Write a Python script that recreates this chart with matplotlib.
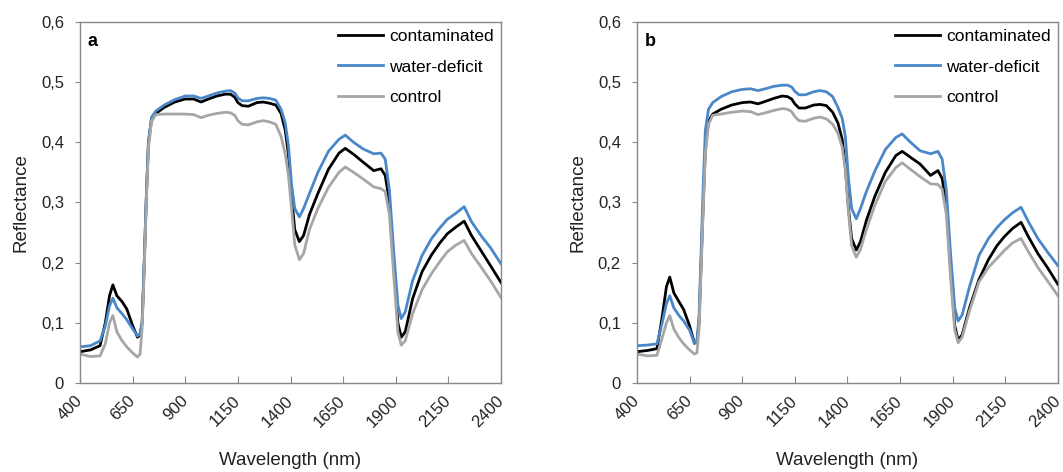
import numpy as np
import matplotlib
matplotlib.use("Agg")
import matplotlib.pyplot as plt

plt.rcParams['font.family'] = ['Liberation Sans', 'DejaVu Sans']

# wavelength grid (nm) shared by both panels
wl = [400, 450, 495, 520, 540, 556, 575, 600, 622, 650,
      673, 685, 695, 705, 715, 725, 740, 760, 800, 850,
      900, 940, 975, 1010, 1050, 1090, 1115, 1135, 1150, 1170,
      1200, 1240, 1270, 1300, 1330, 1355, 1375, 1390, 1405, 1420,
      1442, 1462, 1490, 1530, 1580, 1630, 1660, 1700, 1745, 1795,
      1830, 1850, 1870, 1890, 1910, 1926, 1945, 1980, 2025, 2070,
      2110, 2145, 2185, 2225, 2260, 2305, 2350, 2400]

# panel a
a_contaminated = [.052, .055, .062, .100, .145, .163, .145, .135, .123, .095,
                  .076, .080, .100, .200, .310, .400, .440, .448, .458, .467,
                  .472, .472, .467, .472, .477, .480, .480, .475, .466, .461,
                  .460, .466, .467, .465, .462, .448, .420, .380, .310, .255,
                  .235, .245, .280, .315, .355, .382, .390, .380, .367, .353,
                  .356, .345, .300, .200, .100, .076, .085, .140, .185, .213,
                  .233, .248, .259, .269, .245, .220, .195, .167]
a_water = [.060, .062, .070, .095, .128, .141, .125, .115, .105, .090,
           .078, .082, .100, .200, .310, .400, .442, .452, .462, .471,
           .477, .477, .473, .477, .482, .485, .486, .482, .474, .469,
           .469, .473, .474, .473, .470, .455, .432, .395, .330, .290,
           .276, .290, .315, .350, .385, .405, .412, .400, .389, .381,
           .382, .372, .320, .220, .130, .107, .118, .170, .212, .240,
           .258, .272, .282, .293, .268, .245, .225, .198]
a_control = [.048, .044, .045, .065, .100, .112, .085, .070, .060, .050,
             .043, .048, .090, .190, .300, .390, .435, .446, .447, .447,
             .447, .446, .441, .445, .448, .450, .449, .445, .436, .430,
             .429, .434, .436, .434, .430, .410, .380, .345, .290, .230,
             .205, .215, .255, .290, .325, .350, .359, .350, .339, .326,
             .323, .318, .280, .180, .085, .063, .070, .115, .155, .182,
             .202, .218, .229, .237, .215, .193, .170, .142]

# panel b
b_contaminated = [.052, .054, .057, .110, .160, .176, .150, .135, .122, .095,
                  .066, .068, .100, .200, .300, .390, .435, .447, .455, .462,
                  .466, .467, .464, .468, .473, .477, .476, .472, .464, .457,
                  .457, .462, .463, .461, .450, .432, .405, .360, .290, .240,
                  .221, .235, .270, .310, .350, .378, .385, .375, .364, .345,
                  .353, .340, .295, .190, .095, .071, .080, .125, .172, .205,
                  .228, .243, .257, .267, .243, .215, .192, .164]
b_water = [.062, .063, .065, .100, .132, .145, .125, .112, .103, .088,
           .066, .070, .110, .220, .330, .420, .455, .466, .476, .484,
           .488, .489, .486, .489, .493, .495, .495, .492, .485, .479,
           .479, .484, .486, .484, .476, .458, .440, .410, .340, .290,
           .273, .290, .318, .352, .388, .408, .414, .400, .386, .381,
           .385, .372, .320, .215, .125, .103, .113, .160, .212, .240,
           .258, .271, .283, .292, .268, .240, .218, .195]
b_control = [.048, .045, .046, .075, .100, .112, .090, .075, .065, .055,
             .048, .050, .090, .190, .290, .380, .430, .445, .447, .450,
             .452, .451, .446, .449, .453, .456, .455, .451, .443, .436,
             .435, .440, .442, .439, .430, .415, .392, .355, .285, .228,
             .209, .222, .255, .295, .335, .358, .366, .355, .343, .331,
             .330, .322, .280, .175, .088, .067, .076, .120, .168, .192,
             .207, .220, .233, .240, .218, .192, .170, .145]

labels = ['contaminated', 'water-deficit', 'control']
colors = ['#000000', '#4a87c9', '#a6a6a6']
xticks = [400, 650, 900, 1150, 1400, 1650, 1900, 2150, 2400]
yticks = [0, 0.1, 0.2, 0.3, 0.4, 0.5, 0.6]
ytick_labels = ['0', '0,1', '0,2', '0,3', '0,4', '0,5', '0,6']

panels = [('a', [a_contaminated, a_water, a_control], 0.0753),
          ('b', [b_contaminated, b_water, b_control], 0.5992)]

fig = plt.figure(figsize=(10.63, 4.72), dpi=100)
for tag, series, left in panels:
    ax = fig.add_axes([left, 0.1886, 0.396, 0.7648])
    for vals, lab, col in zip(series, labels, colors):
        ax.plot(wl, vals, color=col, lw=2.0, label=lab)
    ax.set_xlim(400, 2400)
    ax.set_ylim(0, 0.6)
    ax.set_xticks(xticks)
    ax.set_xticklabels([str(t) for t in xticks], rotation=45, ha='right',
                       va='center', rotation_mode='anchor')
    ax.set_yticks(yticks)
    ax.set_yticklabels(ytick_labels)
    ax.tick_params(axis='x', direction='in', length=5, color='#888888',
                   labelsize=12, pad=11, labelcolor='#222222')
    ax.tick_params(axis='y', direction='out', length=3.5, color='#888888',
                   labelsize=12, pad=8, labelcolor='#222222')
    for s in ax.spines.values():
        s.set_color('#888888')
        s.set_linewidth(1.0)
    ax.set_xlabel('Wavelength (nm)', fontsize=13.5, labelpad=16, color='#222222')
    ax.set_ylabel('Reflectance', fontsize=13.5, labelpad=8, color='#222222')
    ax.text(0.018, 0.945, tag, transform=ax.transAxes, fontsize=13,
            fontweight='bold', va='center', ha='left')
    ax.legend(loc='upper right', frameon=False, fontsize=12.5,
              handlelength=2.6, handletextpad=0.35, labelspacing=0.88,
              borderpad=0, borderaxespad=0.4, bbox_to_anchor=(1.0, 1.0))

fig.savefig('out.png', dpi=100)
